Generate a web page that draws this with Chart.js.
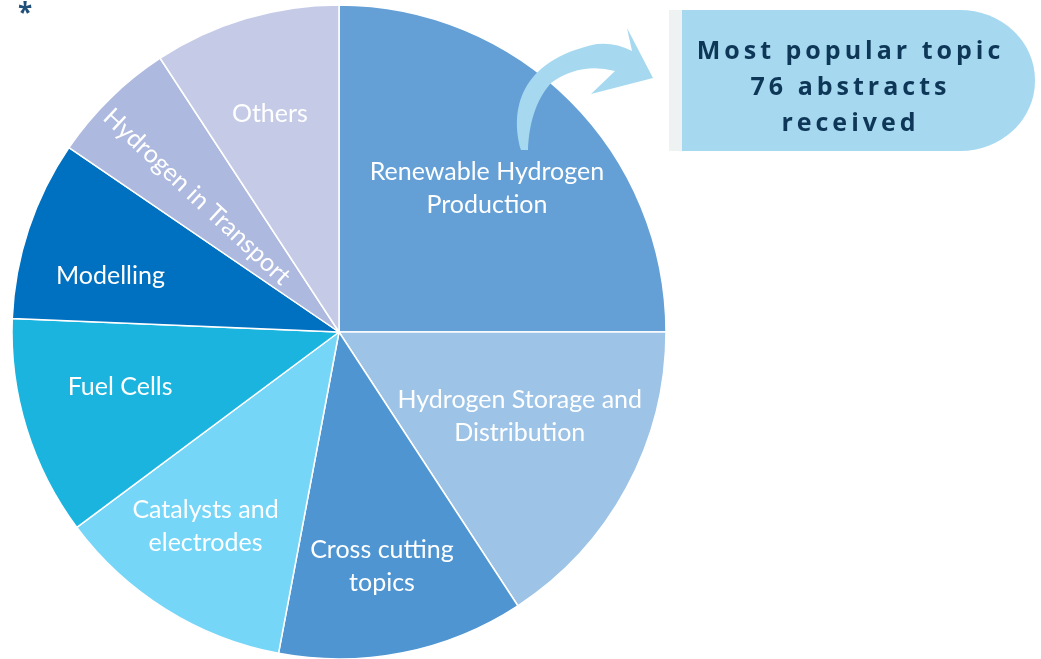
<!DOCTYPE html>
<html>
<head>
<meta charset="utf-8">
<script src="https://cdn.jsdelivr.net/npm/chart.js@4.4.0/dist/chart.umd.min.js"></script>
<style>
  html, body { margin: 0; padding: 0; background: #fff; overflow: hidden; }
  #wrap { position: relative; width: 1041px; height: 659px; }
  #chart { position: absolute; left: 0; top: 0; }
  #arrow { position: absolute; left: 0; top: 0; }
  .star {
    position: absolute; left: 18px; top: -6px;
    font: 700 26px "Open Sans", sans-serif; color: #1f4e79;
  }
  .callout {
    position: absolute; left: 669px; top: 10px;
    width: 353px; height: 141px;
    border-left: 13px solid #eff2f2;
    background: #a6d9f0;
    border-radius: 0 75px 75px 0 / 0 70px 70px 0;
    box-sizing: content-box;
    padding: 0;
  }
  .callout p {
    margin: 0; padding: 21px 16px 0 0;
    font: 700 25px/36px "Open Sans", sans-serif;
    letter-spacing: 4px;
    color: #0d3657;
    text-align: center;
  }
</style>
</head>
<body>
<div id="wrap">
  <canvas id="chart" width="1041" height="659"></canvas>
  <svg id="arrow" width="1041" height="659">
    <path d="M521 150 C510 112, 518 60, 597 44 Q615 42, 632 51 L627 28 L653 78 L591 94 L615 71 Q580 62, 551 83 C535 101, 529 125, 528 150 Z" fill="#a6d9f0"/>
  </svg>
  <div class="star">*</div>
  <div class="callout"><p>Most popular topic<br>76 abstracts<br>received</p></div>
</div>
<script>
const categories = [
  ["Renewable Hydrogen", "Production"],
  ["Hydrogen Storage and", "Distribution"],
  ["Cross cutting", "topics"],
  ["Catalysts and", "electrodes"],
  ["Fuel Cells"],
  ["Modelling"],
  ["Hydrogen in Transport"],
  ["Others"]
]
const abstracts = [76, 48, 37, 36, 33, 27, 19, 28]
const sliceColors = ["#64a0d6", "#9dc3e6", "#4e95d2", "#75d6f8", "#1ab4df", "#0070c0", "#adb9de", "#c5cbe7"]

// where each label sits inside its slice: [share of the angle, share of the radius, rotation deg]
const labelPlace = [
  [0.51, 0.63, 0], [0.44, 0.61, 0], [0.52, 0.73, 0], [0.56, 0.72, 0],
  [0.58, 0.69, 0], [0.36, 0.72, 0], [0.41, 0.60, 43], [0.47, 0.70, 0]
]

const sliceLabels = {
  id: "sliceLabels",
  afterDatasetsDraw(chart) {
    const ctx = chart.ctx
    const arcs = chart.getDatasetMeta(0).data
    ctx.save()
    ctx.fillStyle = "#ffffff"
    ctx.font = "25px Lato, sans-serif"
    ctx.textAlign = "center"
    ctx.textBaseline = "middle"
    arcs.forEach((arc, i) => {
      const p = arc.getProps(["x", "y", "startAngle", "endAngle", "outerRadius"], true)
      const [fa, fr, rot] = labelPlace[i]
      const a = p.startAngle + (p.endAngle - p.startAngle) * fa
      const r = p.outerRadius * fr
      const lines = chart.data.labels[i]
      ctx.save()
      ctx.translate(p.x + Math.cos(a) * r, p.y + Math.sin(a) * r)
      ctx.rotate(rot * Math.PI / 180)
      lines.forEach((t, k) => {
        ctx.fillText(t, 0, (k - (lines.length - 1) / 2) * 33)
      })
      ctx.restore()
    })
    ctx.restore()
  }
}

new Chart(document.getElementById("chart"), {
  type: "pie",
  data: {
    labels: categories,
    datasets: [{
      data: abstracts,
      backgroundColor: sliceColors,
      borderColor: "#ffffff",
      borderWidth: 1.5
    }]
  },
  options: {
    responsive: false,
    animation: false,
    devicePixelRatio: 1,
    radius: 327,
    layout: { padding: { left: 0, right: 363, top: 5, bottom: 0 } },
    plugins: { legend: { display: false }, tooltip: { enabled: false } }
  },
  plugins: [sliceLabels]
})
</script>
</body>
</html>
